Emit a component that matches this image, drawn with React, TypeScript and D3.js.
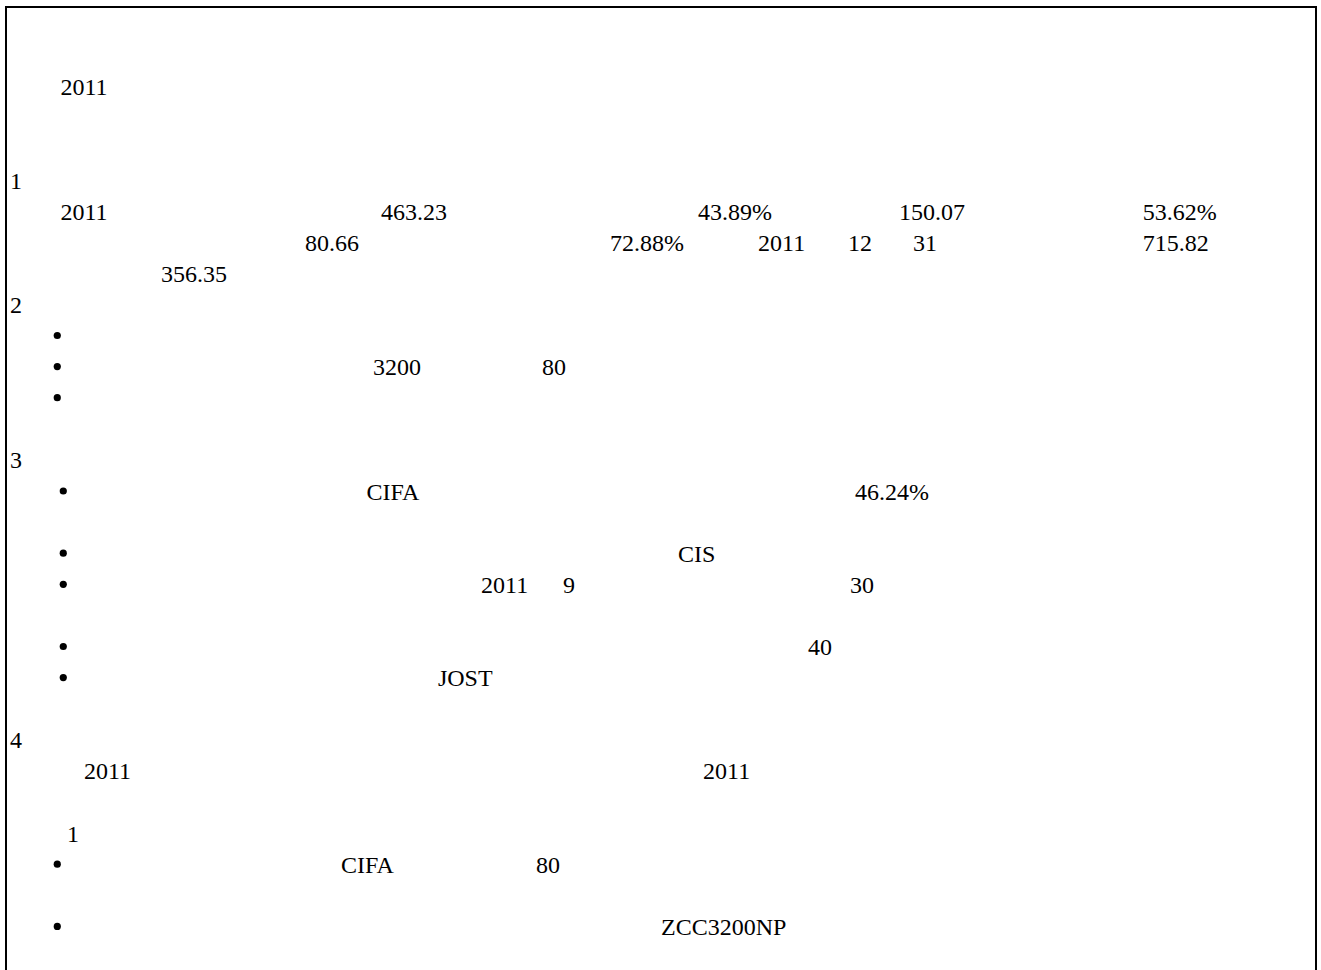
import React from "react";
import * as d3 from "d3";

// text that is visible on the page (the Chinese glyphs are blank in the reference)
const headingText = ["2011"];
const sectionNumbers = ["1", "2", "3", "4"];
const summaryLine1 = ["2011", "463.23", "43.89%", "150.07", "53.62%"];
const summaryLine2 = ["80.66", "72.88%", "2011", "12", "31", "715.82"];
const summaryLine3 = ["356.35"];
const advantageLine = ["3200", "80"];
const riskLine1 = ["CIFA", "46.24%"];
const riskLine2 = ["CIS"];
const riskLine3 = ["2011", "9", "30"];
const riskLine4 = ["40"];
const riskLine5 = ["JOST"];
const outlookLine1 = ["2011", "2011"];
const outlookSub = ["1"];
const outlookLine2 = ["CIFA", "80"];
const outlookLine3 = ["ZCC3200NP"];

// layout: document line index and column (in em) of each token
const rows = [
  { line: 0, cols: [2.1], items: headingText },
  { line: 3, cols: [0], items: [sectionNumbers[0]] },
  { line: 4, cols: [2.1, 15.46, 28.67, 37.04, 47.2], items: summaryLine1 },
  { line: 5, cols: [12.29, 25, 31.17, 34.92, 37.63, 47.2], items: summaryLine2 },
  { line: 6, cols: [6.29], items: summaryLine3 },
  { line: 7, cols: [0], items: [sectionNumbers[1]] },
  { line: 9, cols: [15.13, 22.17], items: advantageLine },
  { line: 12, cols: [0], items: [sectionNumbers[2]] },
  { line: 13, cols: [14.85, 35.21], items: riskLine1 },
  { line: 15, cols: [27.83], items: riskLine2 },
  { line: 16, cols: [19.63, 23.04, 35], items: riskLine3 },
  { line: 18, cols: [33.25], items: riskLine4 },
  { line: 19, cols: [17.83], items: riskLine5 },
  { line: 21, cols: [0], items: [sectionNumbers[3]] },
  { line: 22, cols: [3.08, 28.88], items: outlookLine1 },
  { line: 24, cols: [2.375], items: outlookSub },
  { line: 25, cols: [13.79, 21.92], items: outlookLine2 },
  { line: 27, cols: [27.13], items: outlookLine3 },
];

const bulletLines = [8, 9, 10, 13, 15, 16, 18, 19, 25, 27];
const bulletCols = [1.97, 1.97, 1.97, 2.22, 2.22, 2.22, 2.22, 2.22, 1.97, 1.97];

const width = 1321;
const height = 970;
const fontSize = 24;

export default function App() {
  const x = d3.scaleLinear().domain([0, 1]).range([10, 10 + fontSize]);
  const y = d3.scaleLinear().domain([0, 1]).range([95.2, 95.2 + 31.1]);

  return (
    <svg
      width={width}
      height={height}
      style={{ position: "absolute", left: 0, top: 0, display: "block", background: "#fff" }}
      fontFamily="'Liberation Serif', 'Times New Roman', serif"
      fontSize={fontSize}
    >
      <rect x={6} y={7} width={1310} height={height + 20} fill="none" stroke="#000" strokeWidth={2} />
      {rows.map((r, i) =>
        r.items.map((t, j) => (
          <text key={`${i}-${j}`} x={x(r.cols[j])} y={y(r.line)} fill="#000">
            {t}
          </text>
        ))
      )}
      {bulletLines.map((l, i) => (
        <circle key={`b${i}`} cx={x(bulletCols[i])} cy={y(l) - 8.5} r={3.6} fill="#000" />
      ))}
    </svg>
  );
}
